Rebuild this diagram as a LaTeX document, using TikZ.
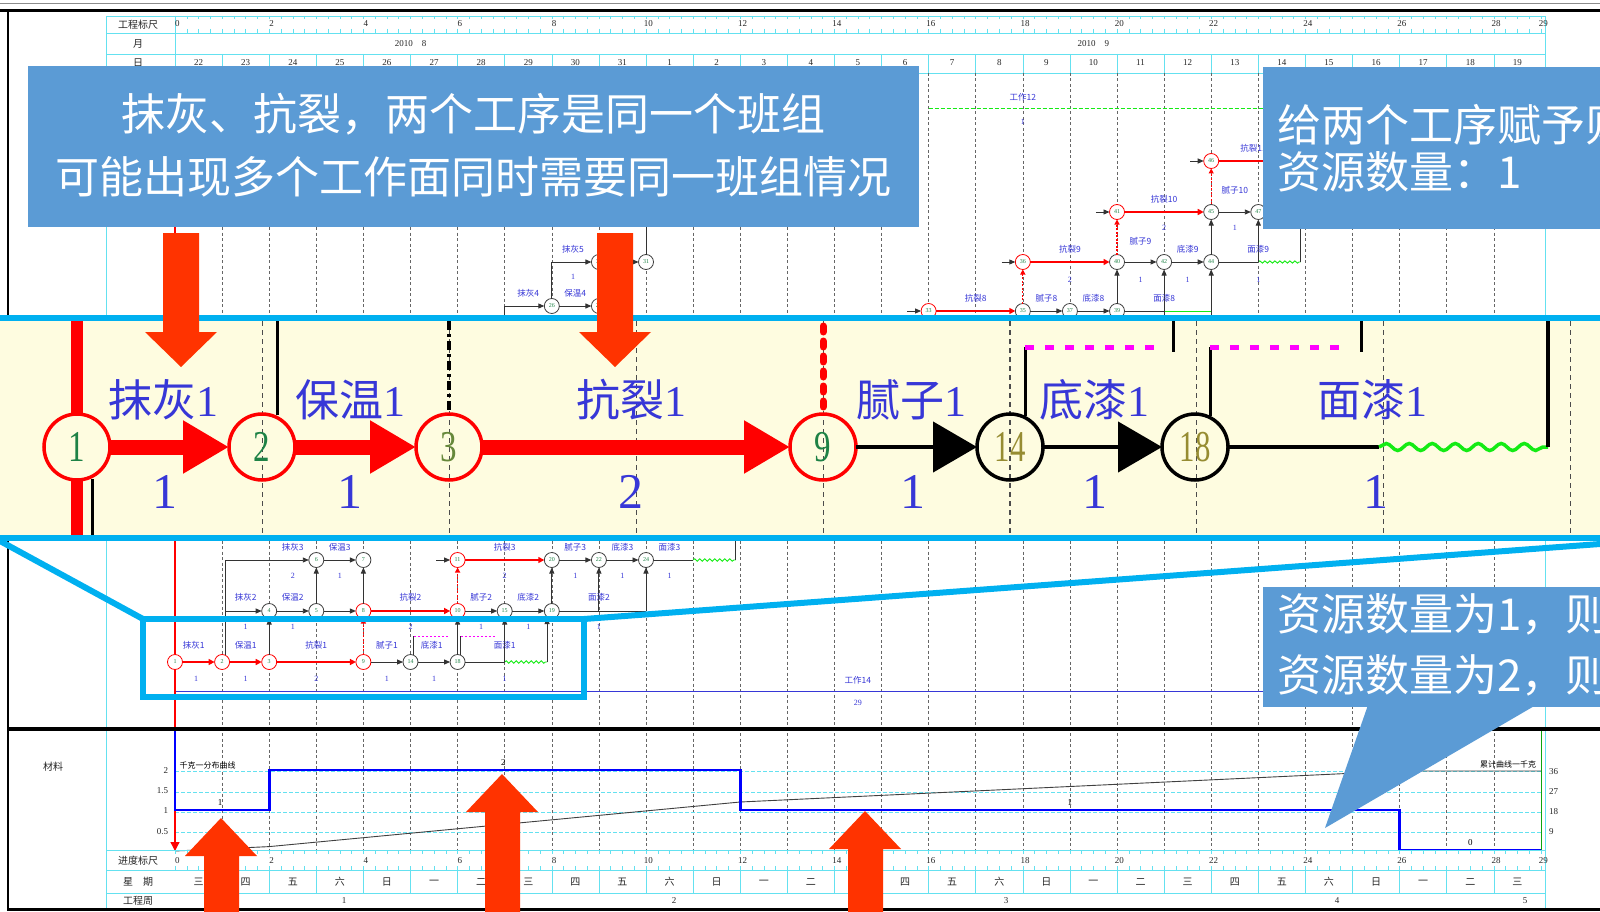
\documentclass[tikz,border=0pt]{standalone}
\usepackage{graphicx}
\usepackage{fontspec}
\setmainfont{Liberation Serif}
\newfontfamily\cjk{Noto Sans CJK SC}
\usetikzlibrary{arrows.meta,decorations.pathmorphing}
\definecolor{callout}{RGB}{91,155,213}
\definecolor{zoomframe}{RGB}{0,176,240}
\definecolor{redarrow}{RGB}{255,51,0}
\definecolor{bandfill}{RGB}{254,252,224}
\definecolor{lblue}{RGB}{55,55,215}
\definecolor{gcyan}{RGB}{100,225,240}
\definecolor{ngreen}{RGB}{30,130,70}
\definecolor{nolive}{RGB}{150,140,50}
\definecolor{wgreen}{RGB}{20,235,20}
\definecolor{pblue}{RGB}{0,0,255}
\definecolor{mgt}{RGB}{255,0,255}
\newcommand{\fsz}[1]{\fontsize{#1}{#1}\selectfont}
\begin{document}
\begin{tikzpicture}[x=1pt,y=-1pt,
  every node/.style={inner sep=0pt, outer sep=0pt},
  hdr/.style={font=\cjk\fsz{10}, text=black!85},
  tnum/.style={font=\fsz{9}, text=black!85},
  gridd/.style={black!60, line width=0.6pt, dash pattern=on 3pt off 2.5pt},
  cyl/.style={gcyan, line width=0.8pt},
  sn/.style={circle, draw=black!75, line width=0.8pt, minimum size=15pt, fill=white, font=\fsz{6}, text=ngreen},
  snr/.style={sn, draw=red},
  sarr/.style={black!80, line width=0.9pt, -{Triangle[length=6pt,width=5pt]}},
  sline/.style={black!80, line width=0.9pt},
  srar/.style={red, line width=1.8pt, -{Triangle[length=6pt,width=6pt]}},
  srdash/.style={red, line width=1.2pt, dash pattern=on 2pt off 1.5pt, -{Triangle[length=5pt,width=5pt]}},
  swave/.style={wgreen, line width=0.9pt, decorate, decoration={snake, amplitude=1.2pt, segment length=5pt}},
  slab/.style={font=\cjk\fsz{8.5}, text=lblue},
  snum/.style={font=\fsz{8}, text=lblue},
  bn/.style={circle, draw=red, line width=3.5pt, minimum size=66pt, font=\fsz{44}, text=ngreen},
  bnk/.style={bn, draw=black, text=nolive},
  barr/.style={red, line width=15pt, -{Triangle[length=46pt,width=50pt]}},
  bkarr/.style={black, line width=4.5pt, -{Triangle[length=44pt,width=50pt]}},
  blab/.style={font=\fsz{44}, text=lblue},
  bnum/.style={font=\fsz{50}, text=lblue},
  bgrid/.style={black!70, line width=1.1pt, dash pattern=on 5pt off 4pt},
  calltext/.style={font=\cjk\fsz{44}, text=white},
]
\useasboundingbox (0,0) rectangle (1600,912);
\begin{scope}
\clip (0,0) rectangle (1600,912);
\fill[white] (0,0) rectangle (1600,912);
% ---------- top lines and header ----------
\draw[black!45, line width=1.2pt] (0,3.5) -- (1600,3.5);
\draw[black, line width=3.4pt] (0,10.5) -- (1600,10.5);
\foreach \yy in {16,33,54,73} \draw[cyl] (106,\yy) -- (1545,\yy);
\draw[cyl] (106,16) -- (106,909);
\draw[cyl] (1545,16) -- (1545,909);
\draw[cyl] (175,16) -- (175,73);
\node[hdr] (hGC) at (138,25) {工程标尺};
\node[hdr] (hM) at (138,44) {月};
\node[hdr] (hD) at (138,63) {日};
\begin{scope}[shift={(175,0)}, x=47.1pt]
  \foreach \i in {0,...,116} \draw[gcyan, line width=0.5pt] (\i/4,29) -- (\i/4,33);
  \foreach \i in {0,...,116} \draw[gcyan, line width=0.5pt] (\i/4,16) -- (\i/4,19.5);
  \foreach \d in {0,2,...,28,29} \node[tnum] (tk\d) at (\d+0.05,24) {\d};
  \node[tnum] (m8) at (5,44) {2010\quad 8};
  \node[tnum] (m9) at (19.5,44) {2010\quad 9};
  \foreach \d in {1,...,28} \draw[cyl, line width=0.6pt] (\d,54) -- (\d,73);
  \foreach \t [count=\i from 0] in {22,23,24,25,26,27,28,29,30,31,1,2,3,4,5,6,7,8,9,10,11,12,13,14,15,16,17,18,19}
     \node[tnum] (dn\i) at (\i+0.5,63) {\t};
  % day grid
  \foreach \d in {1,...,28} \draw[gridd] (\d,73) -- (\d,851);
  % chart guide lines
  \foreach \yy in {771,792,812,832} \draw[gcyan, line width=0.6pt, dash pattern=on 4pt off 2pt] (0,\yy) -- (29,\yy);
  % main red line
  \draw[red, line width=1.3pt] (0,73) -- (0,654);
  % ---------- small network ----------
  \node[snr] (a1) at (0,662) {1};
  \node[snr] (a2) at (1,662) {2};
  \node[snr] (a3) at (2,662) {3};
  \node[snr] (a9) at (4,662) {9};
  \node[sn] (a14) at (5,662) {14};
  \node[sn] (a18) at (6,662) {18};
  \coordinate (a7) at (7,662);
  \coordinate (a8) at (7.9,662);
  \node[sn] (b2) at (2,611) {4};
  \node[sn] (b3) at (3,611) {5};
  \node[snr] (b4) at (4,611) {8};
  \node[snr] (b6) at (6,611) {10};
  \node[sn] (b7) at (7,611) {15};
  \node[sn] (b8) at (8,611) {19};
  \coordinate (b10) at (10,611);
  \node[sn] (c3) at (3,560) {6};
  \node[sn] (c4) at (4,560) {7};
  \node[snr] (c6) at (6,560) {11};
  \node[sn] (c8) at (8,560) {20};
  \node[sn] (c9) at (9,560) {22};
  \node[sn] (c10) at (10,560) {24};
  \coordinate (c11) at (11,560);
  \coordinate (c12) at (11.9,560);
  % row A edges
  \draw[srar] (a1) -- (a2);
  \draw[srar] (a2) -- (a3);
  \draw[srar] (a3) -- (a9);
  \draw[sarr] (a9) -- (a14);
  \draw[sarr] (a14) -- (a18);
  \draw[sline] (a18) -- (a7);
  \draw[swave] (a7) -- (a8);
  \draw[sline] (5.07,655) -- (5.07,636);
  \draw[mgt, line width=1pt, dash pattern=on 2pt off 2pt] (5.07,636) -- (5.8,636);
  \draw[sline] (6.07,655) -- (6.07,636);
  \draw[mgt, line width=1pt, dash pattern=on 2pt off 2pt] (6.07,636) -- (6.8,636);
  % row B edges
  \draw[sline] (1.07,655) -- (1.07,560);
  \draw[sarr] (1.07,611) -- (b2);
  \draw[sarr] (1.07,560) -- (c3);
  \draw[sarr] (b2) -- (b3);
  \draw[sarr] (b3) -- (b4);
  \draw[srar] (b4) -- (b6);
  \draw[sarr] (b6) -- (b7);
  \draw[sarr] (b7) -- (b8);
  \draw[sline] (b8) -- (b10);
  \draw[sarr] (b10) -- (c10);
  \draw[sarr] (a3) -- (b2);
  \draw[srdash] (a9) -- (b4);
  \draw[sarr] (a18) -- (b6);
  \draw[sarr] (a7) -- (b7);
  \draw[sarr] (a8) -- (7.9,618);
  % row C edges
  \draw[sarr] (c3) -- (c4);
  \draw[sarr] (5.55,560) -- (c6);
  \draw[srar] (c6) -- (c8);
  \draw[sarr] (c8) -- (c9);
  \draw[sarr] (c9) -- (c10);
  \draw[sline] (c10) -- (c11);
  \draw[swave] (c11) -- (c12);
  \draw[sline] (c12) -- (11.9,541);
  \draw[sarr] (b3) -- (c3);
  \draw[sarr] (b4) -- (c4);
  \draw[srdash] (b6) -- (c6);
  \draw[sarr] (b8) -- (c8);
  \draw[sarr] (9,611) -- (c9);
  % small labels
  \foreach \t/\xx/\yy [count=\i] in {抹灰1/0.4/645,保温1/1.5/645,抗裂1/3/645,腻子1/4.5/645,底漆1/5.45/645,面漆1/7/645,
      抹灰2/1.5/597,保温2/2.5/597,抗裂2/5/597,腻子2/6.5/597,底漆2/7.5/597,面漆2/9/597,
      抹灰3/2.5/547,保温3/3.5/547,抗裂3/7/547,腻子3/8.5/547,底漆3/9.5/547,面漆3/10.5/547}
    \node[slab] (sl\i) at (\xx,\yy) {\t};
  \foreach \t/\xx/\yy [count=\i] in {1/0.45/679,1/1.5/679,2/3/679,1/4.5/679,1/5.5/679,1/7/679,
      1/1.5/627,1/2.5/627,2/5/627,1/6.5/627,1/7.5/627,1/9/627,
      2/2.5/576,1/3.5/576,2/7/576,1/8.5/576,1/9.5/576,1/10.5/576}
    \node[snum] (sv\i) at (\xx,\yy) {\t};
  % dummy work line
  \draw[lblue, line width=1pt] (0,691) -- (29,691);
  \node[slab] (wk14) at (14.5,680) {工作14};
  \node[snum] (wk14n) at (14.5,703) {29};
  % rows D and E (above band)
  \node[sn] (dn8) at (8,306) {26};
  \node[sn] (dn9) at (9,306) {27};
  \node[sn] (en9) at (9,262) {30};
  \node[sn] (en10) at (10,262) {31};
  \draw[sarr] (7,318) |- (dn8);
  \draw[sarr] (dn8) -- (dn9);
  \draw[sarr] (dn8.north) |- (en9);
  \draw[sarr] (en9) -- (en10);
  \draw[sline] (en10) -- (10,227);
  \node[slab] (ld1) at (7.5,293) {抹灰4};
  \node[slab] (ld2) at (8.5,293) {保温4};
  \node[slab] (le1) at (8.45,249) {抹灰5};
  \node[snum] (le1n) at (8.45,277) {1};
  % right cluster
  \node[snr] (r1a) at (16,311) {33};
  \node[sn] (r1b) at (18,311) {35};
  \node[sn] (r1c) at (19,311) {37};
  \node[sn] (r1d) at (20,311) {39};
  \node[snr] (r2a) at (18,262) {36};
  \node[sn] (r2b) at (20,262) {40};
  \node[sn] (r2c) at (21,262) {42};
  \node[sn] (r2d) at (22,262) {44};
  \node[snr] (r3a) at (20,212) {41};
  \node[sn] (r3b) at (22,212) {45};
  \node[sn] (r3c) at (23,212) {47};
  \node[snr] (r4a) at (22,161) {46};
  \draw[sarr] (15.55,311) -- (r1a);
  \draw[srar] (r1a) -- (r1b);
  \draw[sarr] (r1b) -- (r1c);
  \draw[sarr] (r1c) -- (r1d);
  \draw[sline] (r1d) -- (21,311);
  \draw[wgreen, line width=0.9pt] (21,311) -- (22,311);
  \draw[sarr] (17.55,262) -- (r2a);
  \draw[srar] (r2a) -- (r2b);
  \draw[sarr] (r2b) -- (r2c);
  \draw[sarr] (r2c) -- (r2d);
  \draw[sline] (r2d) -- (23,262);
  \draw[swave] (23,262) -- (23.9,262);
  \draw[sline] (23.9,262) -- (23.9,229);
  \draw[srdash] (r1b) -- (r2a);
  \draw[sarr] (r1d) -- (r2b);
  \draw[sarr] (21,318) -- (r2c);
  \draw[sarr] (22,318) -- (r2d);
  \draw[sarr] (19.55,212) -- (r3a);
  \draw[srar] (r3a) -- (r3b);
  \draw[sarr] (r3b) -- (r3c);
  \draw[srdash] (r2b) -- (r3a);
  \draw[sarr] (r2d) -- (r3b);
  \draw[sarr] (23,262) -- (r3c);
  \draw[sarr] (21.55,161) -- (r4a);
  \draw[srar] (r4a) -- (23.8,161);
  \draw[srdash] (r3b) -- (r4a);
  \foreach \t/\xx/\yy [count=\i] in {抗裂8/17/298,腻子8/18.5/298,底漆8/19.5/298,面漆8/21/298,
      抗裂9/19/249,腻子9/20.5/241,底漆9/21.5/249,面漆9/23/249,抗裂10/21/199,腻子10/22.5/190,抗裂11/22.9/148}
    \node[slab] (rl\i) at (\xx,\yy) {\t};
  \foreach \t/\xx/\yy [count=\i] in {2/19/280,1/20.5/280,1/21.5/280,1/23/280,2/21/228,1/22.5/228}
    \node[snum] (rv\i) at (\xx,\yy) {\t};
  \draw[wgreen, line width=1pt, dash pattern=on 4pt off 2pt] (16,109) -- (23.8,109);
  \node[slab] (wk12) at (18,97) {工作12};
  \node[snum] (wk12n) at (18,122) {1};
  % ---------- resource chart ----------
  \draw[red, line width=1.3pt, -{Triangle[length=9pt,width=9pt]}] (a1) -- (0,851);
  \draw[black!75, line width=0.9pt] (0,851) -- (2,846.6) -- (12,802) -- (26,771) -- (29,771);
  \draw[pblue, line width=2.8pt] (0,731) -- (0,810) -- (2,810) -- (2,770) -- (12,770) -- (12,810) -- (26,810) -- (26,850) -- (29,850);
  \draw[wgreen!70!black, line width=0.8pt] (29,731) -- (29,850);
  \node[tnum, text=black] (st1) at (0.96,803) {1};
  \node[tnum, text=black] (st2) at (6.97,763) {2};
  \node[tnum, text=black] (st3) at (19,803) {1};
  \node[tnum, text=black] (st4) at (27.5,843) {0};
  \node[font=\cjk\fsz{8}, anchor=west] (cl1) at (0.1,765) {千克一分布曲线};
  \node[font=\cjk\fsz{8}, anchor=east] (cl2) at (28.9,764) {累计曲线一千克};
  % ---------- bottom ruler ----------
  \foreach \i in {0,...,116} \draw[gcyan, line width=0.5pt] (\i/4,850) -- (\i/4,854);
  \foreach \i in {0,...,116} \draw[gcyan, line width=0.5pt] (\i/4,866) -- (\i/4,870);
  \foreach \d in {0,2,...,28,29} \node[tnum] (bk\d) at (\d+0.05,861) {\d};
  \foreach \d in {1,...,28} \draw[cyl, line width=0.6pt] (\d,870) -- (\d,893);
  \foreach \t [count=\i from 0] in {三,四,五,六,日,一,二,三,四,五,六,日,一,二,三,四,五,六,日,一,二,三,四,五,六,日,一,二,三}
     \node[font=\cjk\fsz{10}, text=black!85] (wd\i) at (\i+0.5,882) {\t};
\end{scope}
% chart axis labels
\node[font=\cjk\fsz{10}, text=black!85] (cail) at (53,767) {材料};
\foreach \t/\yy [count=\i] in {2/771,1.5/791,1/811,0.5/832} \node[tnum, anchor=east] (ya\i) at (168,\yy) {\t};
\foreach \t/\yy [count=\i] in {36/772,27/792,18/812,9/832} \node[tnum, anchor=west] (yb\i) at (1549,\yy) {\t};
\foreach \yy in {850,870,893} \draw[cyl] (106,\yy) -- (1545,\yy);
\node[hdr] (hJD) at (138,861) {进度标尺};
\node[hdr] (hXQ) at (138,882) {星\quad 期};
\node[hdr] (hGZ) at (138,901) {工程周};
\foreach \t/\xx [count=\i] in {1/344,2/674,3/1006,4/1337,5/1525} \node[tnum] (wn\i) at (\xx,901) {\t};
% frame lines
\draw[black, line width=3.5pt] (8,729) -- (1600,729);
\draw[black, line width=2.5pt] (8,909.5) -- (1600,909.5);
\draw[black, line width=1.8pt] (8,10) -- (8,911);
% ---------- magnified band ----------
\fill[bandfill] (0,318) rectangle (1600,538);
\foreach \k in {1,...,8} \draw[bgrid] ({76+186.8*\k},321) -- ({76+186.8*\k},535);
\node[bn] (n1) at (77,447) {\scalebox{0.75}[1]{1}};
\node[bn] (n2) at (262,447) {\scalebox{0.75}[1]{2}};
\node[bn, text=nolive!60!ngreen] (n3) at (449,447) {\scalebox{0.75}[1]{3}};
\node[bn] (n9) at (823,447) {\scalebox{0.75}[1]{9}};
\node[bnk] (n14) at (1010,447) {\scalebox{0.7}[1]{14}};
\node[bnk] (n18) at (1195,447) {\scalebox{0.7}[1]{18}};
\draw[red, line width=12pt] (77,321) -- (n1.north);
\draw[red, line width=12pt] (n1.south) -- (77,535);
\draw[black, line width=3pt] (92,479) -- (92,535);
\draw[black, line width=3pt] (277,321) -- (277,415);
\draw[black, line width=3.2pt, dash pattern=on 9pt off 4pt on 3pt off 4pt] (449,321) -- (n3.north);
\draw[red, line width=7pt, line cap=round, dash pattern=on 6pt off 9pt] (823,326) -- (823,408);
\draw[black, line width=3pt] (1025,416) -- (1025,347);
\draw[mgt, line width=5pt, dash pattern=on 9pt off 11pt] (1025,347) -- (1158,347);
\draw[black, line width=3pt] (1173,321) -- (1173,352);
\draw[black, line width=3pt] (1210,416) -- (1210,347);
\draw[mgt, line width=5pt, dash pattern=on 9pt off 11pt] (1210,347) -- (1342,347);
\draw[black, line width=3pt] (1361,321) -- (1361,352);
\draw[barr] (n1) -- (n2);
\draw[barr] (n2) -- (n3);
\draw[barr] (n3) -- (n9);
\draw[bkarr] (n9) -- (n14);
\draw[bkarr] (n14) -- (n18);
\coordinate (w0) at (1379,447);
\coordinate (w1) at (1548,447);
\coordinate (wtop) at (1548,321);
\draw[black, line width=4pt] (n18) -- (w0);
\draw[wgreen, line width=3.5pt, decorate, decoration={snake, amplitude=3.5pt, segment length=23pt}] (w0) -- (w1);
\draw[black, line width=3.5pt] (w1) -- (wtop);
\node[blab] (L1) at (163,400) {{\cjk 抹灰}1};
\node[blab] (L2) at (350,400) {{\cjk 保温}1};
\node[blab] (L3) at (631,400) {{\cjk 抗裂}1};
\node[blab] (L4) at (911,400) {{\cjk 腻子}1};
\node[blab] (L5) at (1094,400) {{\cjk 底漆}1};
\node[blab] (L6) at (1372,400) {{\cjk 面漆}1};
\node[bnum] (N1) at (165,492) {1};
\node[bnum] (N2) at (350,492) {1};
\node[bnum] (N3) at (631,492) {2};
\node[bnum] (N4) at (913,492) {1};
\node[bnum] (N5) at (1095,492) {1};
\node[bnum] (N6) at (1376,492) {1};
\draw[zoomframe, line width=6pt] (0,318) -- (1600,318);
\draw[zoomframe, line width=6pt] (0,538) -- (1600,538);
% ---------- zoom connectors ----------
\coordinate (zl) at (0,541);
\coordinate (zr) at (1600,544);
\coordinate (rtl) at (143,619);
\coordinate (rtr) at (584,619);
\draw[zoomframe, line width=6pt] (zl) -- (rtl);
\draw[zoomframe, line width=6pt] (zr) -- (rtr);
\draw[zoomframe, line width=6pt] (143,619) rectangle (584,697);
% ---------- callouts ----------
\fill[callout] (28,66) rectangle (919,227);
\node[calltext] (c1l1) at (473,114) {抹灰、抗裂，两个工序是同一个班组};
\node[calltext] (c1l2) at (473,177) {可能出现多个工作面同时需要同一班组情况};
\fill[callout] (1263,67) rectangle (1600,229);
\node[calltext, anchor=west] (c2l1) at (1277,125) {给两个工序赋予则};
\node[calltext, anchor=west] (c2l2) at (1277,172) {资源数量：1};
\fill[callout] (1263,587) rectangle (1600,707);
\fill[callout] (1368,705) -- (1536,705) -- (1325,828) -- cycle;
\node[calltext, anchor=west] (c3l1) at (1277,614) {资源数量为1，则};
\node[calltext, anchor=west] (c3l2) at (1277,675) {资源数量为2，则};
% ---------- red arrows ----------
\fill[redarrow] (163,233) -- (199,233) -- (199,332) -- (217,332) -- (181,367) -- (145,332) -- (163,332) -- cycle;
\fill[redarrow] (597,233) -- (633,233) -- (633,332) -- (651,332) -- (615,367) -- (579,332) -- (597,332) -- cycle;
\fill[redarrow] (204,912) -- (239,912) -- (239,856) -- (257,856) -- (221,818) -- (185,856) -- (204,856) -- cycle;
\fill[redarrow] (485,912) -- (520,912) -- (520,812) -- (538,812) -- (502,774) -- (466,812) -- (485,812) -- cycle;
\fill[redarrow] (848,912) -- (883,912) -- (883,849) -- (901,849) -- (865,811) -- (829,849) -- (848,849) -- cycle;
\end{scope}
\end{tikzpicture}
\end{document}
